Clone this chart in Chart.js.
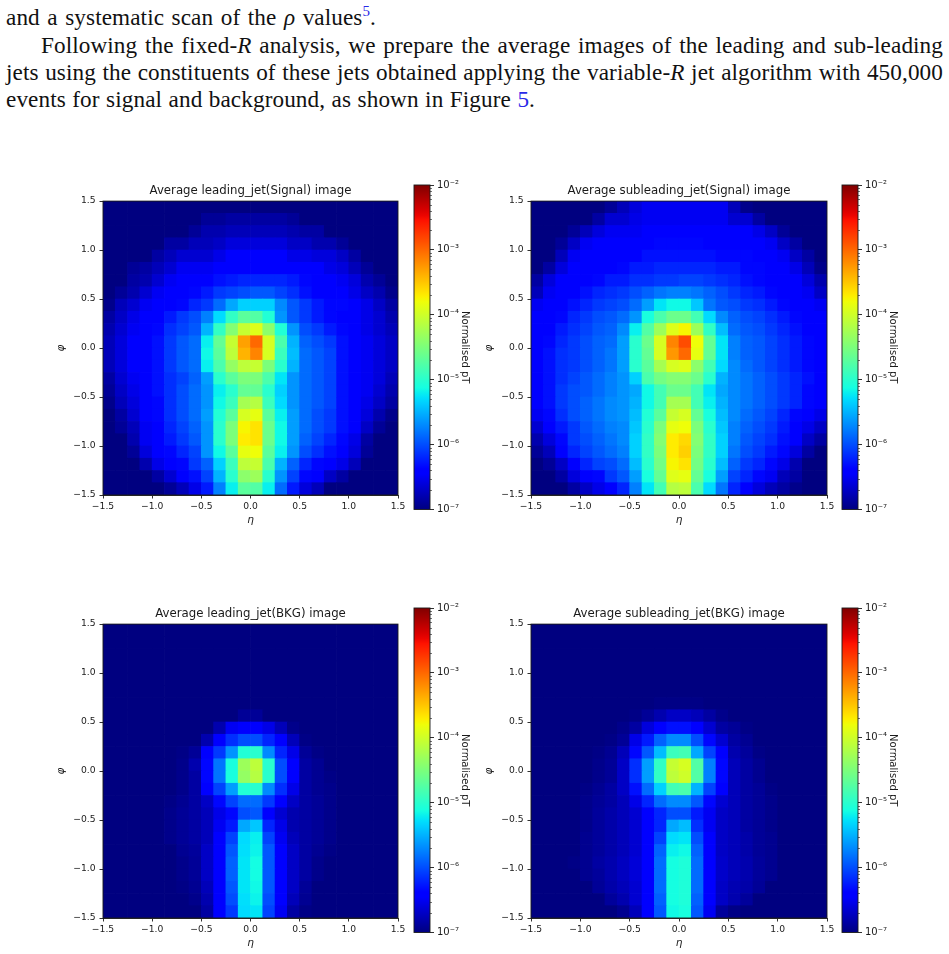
<!DOCTYPE html>
<html>
<head>
<meta charset="utf-8">
<title>Average jet images</title>
<script src="https://cdn.jsdelivr.net/npm/chart.js@4"></script>
<style>
  html, body { margin: 0; padding: 0; background: #fff; }
  body { position: relative; width: 949px; height: 954px; overflow: hidden; }
  canvas { position: absolute; }
  .line {
    position: absolute; white-space: nowrap; color: #111;
    font-family: "Liberation Serif", serif; font-size: 23.2px; letter-spacing: 0.1px; line-height: 26px;
    text-align: justify; text-align-last: justify;
  }
  .line i { font-style: italic; }
  .ref { color: #2a2ae8; }
  sup { font-size: 15px; line-height: 0; color: #2a2ae8; }
</style>
</head>
<body>
<div class="line" style="left:6px;top:4px;width:370px">and a systematic scan of the <i>ρ</i> values<sup>5</sup>.</div>
<div class="line" style="left:41px;top:32px;width:902px">Following the fixed-<i>R</i> analysis, we prepare the average images of the leading and sub-leading</div>
<div class="line" style="left:6px;top:59px;width:937px">jets using the constituents of these jets obtained applying the variable-<i>R</i> jet algorithm with 450,000</div>
<div class="line" style="left:6px;top:86px;width:529px">events for signal and background, as shown in Figure <span class="ref">5</span>.</div>

<canvas id="heat-0" width="358" height="355" style="left:50px;top:176px"></canvas>
<canvas id="heat-1" width="359" height="355" style="left:478px;top:176px"></canvas>
<canvas id="heat-2" width="358" height="355" style="left:50px;top:599px"></canvas>
<canvas id="heat-3" width="359" height="355" style="left:478px;top:599px"></canvas>
<canvas id="bar-0" width="71" height="345" style="left:400px;top:176px"></canvas>
<canvas id="bar-1" width="71" height="345" style="left:828px;top:176px"></canvas>
<canvas id="bar-2" width="71" height="345" style="left:400px;top:599px"></canvas>
<canvas id="bar-3" width="71" height="345" style="left:828px;top:599px"></canvas>

<script>
// bin centres of the 24 x 24 images
const etaBins = [-1.4375, -1.3125, -1.1875, -1.0625, -0.9375, -0.8125, -0.6875, -0.5625, -0.4375, -0.3125, -0.1875, -0.0625,
  0.0625, 0.1875, 0.3125, 0.4375, 0.5625, 0.6875, 0.8125, 0.9375, 1.0625, 1.1875, 1.3125, 1.4375];
const phiBins = [1.4375, 1.3125, 1.1875, 1.0625, 0.9375, 0.8125, 0.6875, 0.5625, 0.4375, 0.3125, 0.1875, 0.0625,
  -0.0625, -0.1875, -0.3125, -0.4375, -0.5625, -0.6875, -0.8125, -0.9375, -1.0625, -1.1875, -1.3125, -1.4375];
const axisTicks = [-1.5, -1.0, -0.5, 0, 0.5, 1.0, 1.5];
const colorTicks = [1e-7, 1e-6, 1e-5, 1e-4, 1e-3, 1e-2];
const colorTickLabels = ['10⁻⁷', '10⁻⁶', '10⁻⁵', '10⁻⁴', '10⁻³', '10⁻²'];
const titles = ['Average leading_jet(Signal) image', 'Average subleading_jet(Signal) image',
  'Average leading_jet(BKG) image', 'Average subleading_jet(BKG) image'];

// log10(normalised pT), one row per phi bin from the top of the image
const leadingSignal = [
  [-7,-7,-7,-7,-7,-7,-7,-7,-7,-7,-7,-7,-7,-7,-7,-7,-7,-7,-7,-7,-7,-7,-7,-7],
  [-7,-7,-7,-7,-7,-7,-7,-7,-6.9,-6.9,-6.85,-6.85,-6.85,-6.85,-6.85,-6.9,-7,-7,-7,-7,-7,-7,-7,-7],
  [-7,-7,-7,-7,-7,-7,-7,-6.9,-6.8,-6.8,-6.75,-6.75,-6.75,-6.75,-6.75,-6.8,-6.85,-6.85,-7,-7,-7,-7,-7,-7],
  [-7,-7,-7,-7,-7,-6.85,-6.85,-6.75,-6.75,-6.7,-6.6,-6.6,-6.6,-6.6,-6.6,-6.7,-6.7,-6.8,-6.8,-6.9,-7,-7,-7,-7],
  [-7,-7,-7,-7,-6.85,-6.75,-6.65,-6.65,-6.65,-6.55,-6.45,-6.45,-6.45,-6.45,-6.45,-6.55,-6.55,-6.6,-6.6,-6.7,-6.85,-7,-7,-7],
  [-7,-7,-6.9,-6.85,-6.75,-6.65,-6.5,-6.5,-6.5,-6.45,-6.4,-6.4,-6.4,-6.4,-6.4,-6.45,-6.45,-6.45,-6.55,-6.6,-6.75,-6.9,-7,-7],
  [-7,-7,-6.85,-6.8,-6.65,-6.5,-6.45,-6.4,-6.4,-6.3,-6.25,-6.2,-6.2,-6.2,-6.2,-6.25,-6.35,-6.4,-6.4,-6.5,-6.6,-6.8,-6.9,-7],
  [-7,-6.9,-6.8,-6.65,-6.5,-6.42,-6.4,-6.35,-6.25,-6.1,-6.05,-6,-5.95,-5.95,-6.05,-6.15,-6.3,-6.4,-6.4,-6.45,-6.55,-6.7,-6.8,-6.95],
  [-6.95,-6.75,-6.65,-6.5,-6.4,-6.4,-6.35,-6.2,-6.1,-5.85,-5.55,-5.35,-5.35,-5.35,-5.7,-5.95,-6.1,-6.25,-6.35,-6.35,-6.45,-6.55,-6.7,-6.85],
  [-6.85,-6.7,-6.55,-6.42,-6.38,-6.25,-6.1,-6,-5.75,-5.3,-4.95,-4.7,-4.75,-5.05,-5.65,-5.95,-6.1,-6.25,-6.35,-6.4,-6.45,-6.55,-6.65,-6.8],
  [-6.8,-6.65,-6.5,-6.4,-6.35,-6.15,-6.05,-5.95,-5.5,-4.95,-4.45,-4.05,-3.9,-4.4,-5.05,-5.65,-6,-6.1,-6.25,-6.35,-6.42,-6.55,-6.65,-6.75],
  [-6.75,-6.6,-6.45,-6.38,-6.3,-6.1,-5.95,-5.85,-5.2,-4.65,-4.05,-3.3,-3,-3.95,-4.8,-5.5,-5.9,-6,-6.1,-6.3,-6.42,-6.5,-6.6,-6.7],
  [-6.75,-6.6,-6.45,-6.38,-6.3,-6.1,-5.95,-5.85,-5.15,-4.7,-4.1,-3.4,-3.15,-3.95,-4.9,-5.45,-5.85,-5.95,-6.05,-6.3,-6.4,-6.5,-6.6,-6.7],
  [-6.75,-6.6,-6.45,-6.38,-6.3,-6.1,-5.95,-5.85,-5.2,-4.8,-4.35,-4.1,-4.05,-4.5,-5,-5.5,-5.85,-5.95,-6.05,-6.3,-6.4,-6.5,-6.6,-6.7],
  [-6.85,-6.65,-6.5,-6.4,-6.3,-6.15,-6.05,-5.9,-5.6,-5,-4.7,-4.5,-4.5,-4.8,-5.25,-5.65,-5.85,-5.95,-6.05,-6.3,-6.4,-6.5,-6.6,-6.75],
  [-6.9,-6.7,-6.55,-6.4,-6.3,-6.15,-6,-5.85,-5.65,-5.2,-5,-4.65,-4.65,-5,-5.35,-5.65,-5.85,-5.95,-6.05,-6.3,-6.4,-6.5,-6.65,-6.8],
  [-6.95,-6.75,-6.6,-6.45,-6.35,-6.15,-6,-5.85,-5.65,-5.15,-4.9,-4.25,-4.15,-4.9,-5.3,-5.65,-5.85,-5.95,-6.05,-6.3,-6.4,-6.55,-6.7,-6.85],
  [-7,-6.85,-6.65,-6.45,-6.35,-6.15,-6,-5.85,-5.6,-5.05,-4.7,-3.95,-3.85,-4.7,-5.2,-5.6,-5.85,-6,-6.1,-6.3,-6.42,-6.6,-6.8,-6.95],
  [-7,-6.9,-6.75,-6.5,-6.38,-6.2,-6.05,-5.9,-5.65,-5,-4.5,-3.75,-3.65,-4.6,-5.15,-5.6,-5.85,-6,-6.1,-6.3,-6.45,-6.7,-6.9,-7],
  [-7,-7,-6.8,-6.5,-6.4,-6.25,-6.1,-5.95,-5.65,-5,-4.5,-3.7,-3.65,-4.6,-5.15,-5.6,-5.9,-6.05,-6.2,-6.35,-6.55,-6.85,-7,-7],
  [-7,-7,-6.9,-6.6,-6.42,-6.35,-6.2,-6.05,-5.65,-5.15,-4.7,-3.85,-3.8,-4.7,-5.2,-5.65,-6,-6.15,-6.3,-6.4,-6.6,-6.9,-7,-7],
  [-7,-7,-7,-6.8,-6.55,-6.42,-6.35,-6.1,-5.9,-5.35,-4.9,-4.1,-4.05,-4.8,-5.5,-5.9,-6.2,-6.35,-6.4,-6.55,-6.75,-7,-7,-7],
  [-7,-7,-7,-7,-6.85,-6.65,-6.42,-6.3,-6.05,-5.5,-5,-4.4,-4.3,-5,-5.65,-6.05,-6.35,-6.45,-6.7,-6.85,-7,-7,-7,-7],
  [-7,-7,-7,-7,-7,-6.9,-6.75,-6.55,-6.25,-5.75,-5.2,-4.7,-4.75,-5.2,-5.85,-6.25,-6.6,-6.75,-7,-7,-7,-7,-7,-7]
];
const subleadingSignal = [
  [-7,-7,-7,-7,-7,-7,-6.9,-6.75,-6.6,-6.5,-6.5,-6.5,-6.5,-6.5,-6.5,-6.5,-6.75,-6.95,-7,-7,-7,-7,-7,-7],
  [-7,-7,-7,-7,-7,-6.85,-6.65,-6.65,-6.55,-6.5,-6.5,-6.5,-6.5,-6.5,-6.5,-6.5,-6.65,-6.65,-6.85,-7,-7,-7,-7,-7],
  [-7,-7,-7,-6.9,-6.75,-6.6,-6.5,-6.5,-6.5,-6.45,-6.4,-6.4,-6.4,-6.4,-6.4,-6.45,-6.45,-6.45,-6.55,-6.7,-6.9,-7,-7,-7],
  [-7,-7,-6.9,-6.7,-6.5,-6.45,-6.45,-6.45,-6.4,-6.4,-6.35,-6.35,-6.35,-6.35,-6.4,-6.4,-6.4,-6.4,-6.45,-6.5,-6.7,-6.85,-7,-7],
  [-7,-7,-6.75,-6.5,-6.42,-6.42,-6.42,-6.38,-6.38,-6.3,-6.3,-6.3,-6.3,-6.3,-6.3,-6.35,-6.35,-6.35,-6.42,-6.42,-6.5,-6.7,-6.85,-7],
  [-7,-6.85,-6.6,-6.45,-6.42,-6.4,-6.4,-6.35,-6.25,-6.25,-6.2,-6.2,-6.2,-6.2,-6.2,-6.25,-6.25,-6.35,-6.35,-6.4,-6.45,-6.55,-6.75,-6.95],
  [-6.85,-6.6,-6.45,-6.4,-6.4,-6.35,-6.25,-6.25,-6.15,-6.15,-6.1,-6.1,-6.05,-6.05,-6.1,-6.15,-6.2,-6.3,-6.35,-6.4,-6.4,-6.45,-6.6,-6.8],
  [-6.75,-6.5,-6.42,-6.4,-6.3,-6.2,-6.15,-6.1,-6,-5.9,-5.8,-5.75,-5.75,-5.8,-5.9,-6,-6.1,-6.2,-6.25,-6.35,-6.4,-6.42,-6.5,-6.7],
  [-6.5,-6.42,-6.4,-6.3,-6.2,-6.1,-6.05,-6,-5.85,-5.6,-5.25,-5.15,-5.15,-5.4,-5.8,-5.95,-6,-6.1,-6.15,-6.25,-6.35,-6.4,-6.42,-6.5],
  [-6.45,-6.4,-6.35,-6.2,-6.1,-6,-5.95,-5.85,-5.65,-5.1,-4.8,-4.6,-4.6,-4.85,-5.3,-5.7,-5.9,-6,-6.05,-6.15,-6.25,-6.35,-6.4,-6.42],
  [-6.4,-6.4,-6.25,-6.15,-6.05,-5.95,-5.9,-5.7,-5.2,-4.75,-4.3,-3.9,-3.75,-4.3,-4.95,-5.45,-5.85,-5.95,-6,-6.1,-6.2,-6.3,-6.38,-6.4],
  [-6.4,-6.35,-6.2,-6.1,-6,-5.9,-5.85,-5.6,-5,-4.6,-3.95,-3.15,-2.85,-3.8,-4.65,-5.25,-5.75,-5.9,-5.95,-6.05,-6.15,-6.25,-6.35,-6.4],
  [-6.4,-6.3,-6.15,-6.1,-6,-5.9,-5.8,-5.6,-5,-4.65,-3.95,-3.25,-3,-3.85,-4.65,-5.25,-5.75,-5.9,-5.95,-6.05,-6.15,-6.25,-6.35,-6.4],
  [-6.4,-6.3,-6.15,-6.1,-6,-5.9,-5.8,-5.6,-5,-4.7,-4.25,-3.95,-3.9,-4.4,-4.85,-5.3,-5.7,-5.85,-5.95,-6.05,-6.15,-6.25,-6.35,-6.4],
  [-6.4,-6.3,-6.15,-6.05,-5.95,-5.85,-5.75,-5.65,-5.35,-4.8,-4.55,-4.45,-4.45,-4.6,-5,-5.5,-5.7,-5.8,-5.9,-6,-6.1,-6.2,-6.3,-6.4],
  [-6.4,-6.3,-6.1,-6,-5.95,-5.85,-5.75,-5.65,-5.55,-5.15,-4.85,-4.6,-4.6,-4.85,-5.25,-5.55,-5.7,-5.8,-5.9,-6,-6.1,-6.2,-6.35,-6.4],
  [-6.4,-6.3,-6.1,-6,-5.9,-5.8,-5.7,-5.65,-5.5,-5.15,-4.85,-4.25,-4.25,-4.85,-5.2,-5.5,-5.7,-5.8,-5.9,-6,-6.1,-6.2,-6.35,-6.4],
  [-6.5,-6.35,-6.15,-6,-5.9,-5.8,-5.7,-5.65,-5.45,-5.05,-4.7,-4.05,-3.95,-4.65,-5.1,-5.45,-5.7,-5.85,-5.95,-6.05,-6.2,-6.35,-6.4,-6.55],
  [-6.65,-6.4,-6.25,-6.1,-5.95,-5.85,-5.75,-5.7,-5.4,-5,-4.5,-3.85,-3.8,-4.5,-5,-5.4,-5.75,-5.9,-6,-6.1,-6.25,-6.4,-6.55,-6.7],
  [-6.8,-6.6,-6.35,-6.1,-6,-5.9,-5.8,-5.7,-5.35,-4.95,-4.45,-3.7,-3.6,-4.45,-4.95,-5.35,-5.75,-5.95,-6.05,-6.15,-6.3,-6.45,-6.7,-6.85],
  [-6.9,-6.75,-6.4,-6.2,-6.05,-5.95,-5.85,-5.75,-5.35,-4.95,-4.5,-3.7,-3.55,-4.5,-4.95,-5.35,-5.8,-6,-6.1,-6.25,-6.35,-6.6,-6.85,-7],
  [-7,-6.9,-6.7,-6.4,-6.2,-6.05,-6,-5.85,-5.45,-5,-4.55,-3.75,-3.65,-4.55,-5,-5.45,-5.9,-6.1,-6.2,-6.35,-6.55,-6.8,-7,-7],
  [-7,-7,-6.85,-6.6,-6.45,-6.35,-6.1,-5.95,-5.6,-5.1,-4.65,-3.9,-3.85,-4.65,-5.1,-5.6,-6.05,-6.2,-6.35,-6.5,-6.75,-6.85,-7,-7],
  [-7,-7,-7,-6.85,-6.7,-6.55,-6.4,-6.2,-5.75,-5.25,-4.85,-4.15,-4.1,-4.8,-5.3,-5.8,-6.2,-6.4,-6.6,-6.75,-6.85,-6.95,-7,-7]
];
const leadingBkg = [
  [-7,-7,-7,-7,-7,-7,-7,-7,-7,-7,-7,-7,-7,-7,-7,-7,-7,-7,-7,-7,-7,-7,-7,-7],
  [-7,-7,-7,-7,-7,-7,-7,-7,-7,-7,-7,-7,-7,-7,-7,-7,-7,-7,-7,-7,-7,-7,-7,-7],
  [-7,-7,-7,-7,-7,-7,-7,-7,-7,-7,-7,-7,-7,-7,-7,-7,-7,-7,-7,-7,-7,-7,-7,-7],
  [-7,-7,-7,-7,-7,-7,-7,-7,-7,-7,-7,-7,-7,-7,-7,-7,-7,-7,-7,-7,-7,-7,-7,-7],
  [-7,-7,-7,-7,-7,-7,-7,-7,-7,-7,-7,-7,-7,-7,-7,-7,-7,-7,-7,-7,-7,-7,-7,-7],
  [-7,-7,-7,-7,-7,-7,-7,-7,-7,-7,-7,-7,-7,-7,-7,-7,-7,-7,-7,-7,-7,-7,-7,-7],
  [-7,-7,-7,-7,-7,-7,-7,-7,-7,-7,-7,-7,-7,-7,-7,-7,-7,-7,-7,-7,-7,-7,-7,-7],
  [-7,-7,-7,-7,-7,-7,-7,-7,-7,-7,-7,-6.9,-6.9,-7,-7,-7,-7,-7,-7,-7,-7,-7,-7,-7],
  [-7,-7,-7,-7,-7,-7,-7,-7,-7,-6.8,-6.5,-6.4,-6.4,-6.55,-6.75,-6.95,-7,-7,-7,-7,-7,-7,-7,-7],
  [-7,-7,-7,-7,-7,-7,-7,-7,-6.8,-6.4,-6.15,-6,-6,-6.2,-6.45,-6.75,-6.97,-7,-7,-7,-7,-7,-7,-7],
  [-7,-7,-7,-7,-7,-7,-6.97,-6.9,-6.4,-6.1,-5.65,-5.05,-5,-5.7,-6.2,-6.55,-6.9,-6.97,-7,-7,-7,-7,-7,-7],
  [-7,-7,-7,-7,-7,-7,-6.95,-6.8,-6.35,-5.8,-5.1,-4.3,-4.1,-5,-6,-6.4,-6.85,-6.92,-7,-7,-7,-7,-7,-7],
  [-7,-7,-7,-7,-7,-7,-6.95,-6.85,-6.35,-5.8,-5.1,-4.35,-4.15,-5,-6,-6.4,-6.85,-6.92,-6.97,-7,-7,-7,-7,-7],
  [-7,-7,-7,-7,-7,-7,-6.95,-6.85,-6.4,-6.05,-5.6,-5.05,-5,-5.7,-6.15,-6.55,-6.85,-6.92,-6.95,-7,-7,-7,-7,-7],
  [-7,-7,-7,-7,-7,-6.97,-6.92,-6.85,-6.7,-6.35,-6.05,-5.85,-5.85,-6.1,-6.4,-6.7,-6.85,-6.9,-6.95,-7,-7,-7,-7,-7],
  [-7,-7,-7,-7,-7,-6.95,-6.9,-6.85,-6.75,-6.55,-6.35,-6,-5.95,-6.4,-6.65,-6.8,-6.85,-6.9,-6.95,-7,-7,-7,-7,-7],
  [-7,-7,-7,-7,-7,-6.95,-6.9,-6.85,-6.75,-6.5,-6.25,-5.55,-5.4,-6.2,-6.55,-6.8,-6.85,-6.9,-6.95,-7,-7,-7,-7,-7],
  [-7,-7,-7,-7,-7,-6.95,-6.9,-6.85,-6.75,-6.45,-6.05,-5.3,-5.2,-6.05,-6.5,-6.75,-6.85,-6.9,-6.95,-7,-7,-7,-7,-7],
  [-7,-7,-7,-7,-7,-7,-6.92,-6.88,-6.7,-6.4,-5.95,-5.28,-5.18,-5.95,-6.45,-6.7,-6.85,-6.92,-6.97,-7,-7,-7,-7,-7],
  [-7,-7,-7,-7,-7,-7,-6.95,-6.9,-6.7,-6.4,-5.9,-5.25,-5.13,-5.95,-6.45,-6.7,-6.85,-6.95,-7,-7,-7,-7,-7,-7],
  [-7,-7,-7,-7,-7,-7,-6.95,-6.9,-6.7,-6.4,-5.9,-5.25,-5.13,-5.95,-6.4,-6.7,-6.85,-6.95,-7,-7,-7,-7,-7,-7],
  [-7,-7,-7,-7,-7,-7,-6.97,-6.92,-6.75,-6.4,-5.95,-5.25,-5.15,-5.95,-6.45,-6.7,-6.9,-7,-7,-7,-7,-7,-7,-7],
  [-7,-7,-7,-7,-7,-7,-7,-6.95,-6.8,-6.42,-6,-5.28,-5.18,-6,-6.45,-6.75,-6.92,-7,-7,-7,-7,-7,-7,-7],
  [-7,-7,-7,-7,-7,-7,-7,-7,-6.85,-6.45,-6.1,-5.3,-5.25,-6.05,-6.5,-6.85,-6.97,-7,-7,-7,-7,-7,-7,-7]
];
const subleadingBkg = [
  [-7,-7,-7,-7,-7,-7,-7,-7,-7,-7,-7,-7,-7,-7,-7,-7,-7,-7,-7,-7,-7,-7,-7,-7],
  [-7,-7,-7,-7,-7,-7,-7,-7,-7,-7,-7,-7,-7,-7,-7,-7,-7,-7,-7,-7,-7,-7,-7,-7],
  [-7,-7,-7,-7,-7,-7,-7,-7,-7,-7,-7,-7,-7,-7,-7,-7,-7,-7,-7,-7,-7,-7,-7,-7],
  [-7,-7,-7,-7,-7,-7,-7,-7,-7,-7,-7,-7,-7,-7,-7,-7,-7,-7,-7,-7,-7,-7,-7,-7],
  [-7,-7,-7,-7,-7,-7,-7,-7,-7,-7,-7,-7,-7,-7,-7,-7,-7,-7,-7,-7,-7,-7,-7,-7],
  [-7,-7,-7,-7,-7,-7,-7,-7,-7,-7,-7,-7,-7,-7,-7,-7,-7,-7,-7,-7,-7,-7,-7,-7],
  [-7,-7,-7,-7,-7,-7,-7,-7,-7,-7,-6.97,-6.97,-6.97,-6.97,-7,-7,-7,-7,-7,-7,-7,-7,-7,-7],
  [-7,-7,-7,-7,-7,-7,-7,-7,-6.97,-6.9,-6.8,-6.7,-6.7,-6.75,-6.85,-6.95,-7,-7,-7,-7,-7,-7,-7,-7],
  [-7,-7,-7,-7,-7,-7,-7,-6.95,-6.85,-6.6,-6.4,-6.3,-6.3,-6.4,-6.65,-6.85,-6.9,-6.97,-7,-7,-7,-7,-7,-7],
  [-7,-7,-7,-7,-7,-7,-6.97,-6.9,-6.55,-6.25,-5.9,-5.7,-5.7,-6,-6.35,-6.65,-6.85,-6.92,-7,-7,-7,-7,-7,-7],
  [-7,-7,-7,-7,-7,-6.97,-6.92,-6.75,-6.35,-5.95,-5.45,-4.9,-4.85,-5.55,-6.05,-6.42,-6.8,-6.88,-6.97,-7,-7,-7,-7,-7],
  [-7,-7,-7,-7,-7,-6.95,-6.9,-6.7,-6.15,-5.6,-4.95,-4.05,-3.95,-4.75,-5.75,-6.35,-6.75,-6.85,-6.93,-7,-7,-7,-7,-7],
  [-7,-7,-7,-7,-7,-6.95,-6.9,-6.7,-6.15,-5.6,-4.95,-4.1,-4,-4.75,-5.75,-6.35,-6.75,-6.85,-6.93,-7,-7,-7,-7,-7],
  [-7,-7,-7,-7,-6.97,-6.92,-6.85,-6.7,-6.3,-5.85,-5.35,-4.85,-4.8,-5.5,-6.05,-6.42,-6.75,-6.85,-6.9,-6.97,-7,-7,-7,-7],
  [-7,-7,-7,-7,-6.95,-6.9,-6.85,-6.75,-6.55,-6.2,-5.85,-5.7,-5.7,-5.95,-6.35,-6.65,-6.75,-6.85,-6.9,-6.95,-7,-7,-7,-7],
  [-7,-7,-7,-7,-6.95,-6.88,-6.82,-6.75,-6.65,-6.42,-6.2,-6,-6,-6.25,-6.5,-6.7,-6.75,-6.85,-6.9,-6.95,-7,-7,-7,-7],
  [-7,-7,-7,-7,-6.95,-6.88,-6.82,-6.75,-6.65,-6.42,-6.2,-5.55,-5.45,-6.15,-6.5,-6.7,-6.75,-6.85,-6.9,-6.95,-7,-7,-7,-7],
  [-7,-7,-7,-7,-6.93,-6.88,-6.82,-6.75,-6.65,-6.4,-6.05,-5.3,-5.25,-6,-6.45,-6.7,-6.75,-6.82,-6.9,-6.93,-7,-7,-7,-7],
  [-7,-7,-7,-7,-6.93,-6.88,-6.82,-6.75,-6.65,-6.4,-5.9,-5.2,-5.15,-5.9,-6.4,-6.7,-6.75,-6.82,-6.9,-6.93,-7,-7,-7,-7],
  [-7,-7,-7,-6.97,-6.93,-6.85,-6.8,-6.72,-6.62,-6.4,-5.85,-5.12,-5.07,-5.85,-6.4,-6.68,-6.75,-6.8,-6.88,-6.93,-7,-7,-7,-7],
  [-7,-7,-7,-7,-6.93,-6.88,-6.8,-6.72,-6.62,-6.4,-5.85,-5.12,-5.07,-5.85,-6.4,-6.68,-6.75,-6.8,-6.88,-6.93,-7,-7,-7,-7],
  [-7,-7,-7,-7,-7,-6.9,-6.82,-6.75,-6.65,-6.4,-5.85,-5.12,-5.07,-5.85,-6.42,-6.7,-6.78,-6.82,-6.9,-7,-7,-7,-7,-7],
  [-7,-7,-7,-7,-7,-7,-6.88,-6.8,-6.65,-6.4,-5.9,-5.12,-5.07,-5.9,-6.42,-6.7,-6.8,-6.88,-7,-7,-7,-7,-7,-7],
  [-7,-7,-7,-7,-7,-7,-7,-6.93,-6.75,-6.42,-5.95,-5.15,-5.1,-5.95,-6.5,-6.88,-6.97,-7,-7,-7,-7,-7,-7,-7]
];
const grids = [leadingSignal, subleadingSignal, leadingBkg, subleadingBkg];

const LOG_MIN = -7;
const LOG_MAX = -2;
const FONT = '"DejaVu Sans", sans-serif';
const INK = '#1a1a1a';

// matplotlib jet segments
const jetRed = [[0, 0], [0.35, 0], [0.66, 1], [0.89, 1], [1, 0.5]];
const jetGreen = [[0, 0], [0.125, 0], [0.375, 1], [0.64, 1], [0.91, 0], [1, 0]];
const jetBlue = [[0, 0.5], [0.11, 1], [0.34, 1], [0.65, 0], [1, 0]];

function segment(stops, t) {
  for (let i = 1; i < stops.length; i++) {
    if (t <= stops[i][0]) {
      const [x0, y0] = stops[i - 1];
      const [x1, y1] = stops[i];
      return y0 + (y1 - y0) * (t - x0) / (x1 - x0);
    }
  }
  return stops[stops.length - 1][1];
}

function jet(t) {
  const c = Math.min(1, Math.max(0, t));
  const r = Math.round(255 * segment(jetRed, c));
  const g = Math.round(255 * segment(jetGreen, c));
  const b = Math.round(255 * segment(jetBlue, c));
  return `rgb(${r},${g},${b})`;
}

// box around the plot area, the axes only draw two of its sides
const framePlugin = {
  id: 'frame',
  afterDraw(chart) {
    const { ctx, chartArea: a } = chart;
    ctx.save();
    ctx.strokeStyle = INK;
    ctx.lineWidth = 0.9;
    ctx.strokeRect(a.left, a.top, a.right - a.left, a.bottom - a.top);
    ctx.restore();
  },
};

const minorTicksPlugin = {
  id: 'minorTicks',
  afterDraw(chart) {
    const { ctx, chartArea: a, scales } = chart;
    ctx.save();
    ctx.strokeStyle = INK;
    ctx.lineWidth = 0.6;
    for (const decade of colorTicks.slice(0, -1)) {
      for (let m = 2; m <= 9; m++) {
        const y = Math.round(scales.y.getPixelForValue(decade * m)) + 0.5;
        ctx.beginPath();
        ctx.moveTo(a.right, y);
        ctx.lineTo(a.right + 2, y);
        ctx.stroke();
      }
    }
    ctx.restore();
  },
};

function formatTick(v) {
  return v.toFixed(1).replace('-', '−');
}

// whole pixels, so neighbouring cells overlap without a seam
function cellSide(chart) {
  const x = chart.scales.x;
  return Math.round(Math.abs(x.getPixelForValue(etaBins[1]) - x.getPixelForValue(etaBins[0])) + 0.7);
}

function imageAxis(title, size, tickPadding, titlePadding) {
  return {
    type: 'linear',
    min: axisTicks[0],
    max: axisTicks[axisTicks.length - 1],
    afterBuildTicks: (scale) => { scale.ticks = axisTicks.map((value) => ({ value })); },
    afterFit: (scale) => { scale[size.key] = size.value; },
    grid: { drawOnChartArea: false, drawTicks: true, tickLength: 3.5, color: INK, tickWidth: 0.9 },
    border: { display: true, color: INK, width: 0.9 },
    ticks: {
      autoSkip: false, maxRotation: 0, padding: tickPadding, color: INK,
      font: { family: FONT, size: 9.2 },
      callback: formatTick,
    },
    title: {
      display: true, text: title, color: INK, padding: titlePadding,
      font: { family: FONT, size: 10.5, style: 'italic' },
    },
  };
}

function drawImage(index) {
  const points = [];
  grids[index].forEach((row, j) => {
    row.forEach((v, i) => points.push({ x: etaBins[i], y: phiBins[j], v }));
  });

  new Chart(document.getElementById(`heat-${index}`), {
    type: 'scatter',
    data: {
      datasets: [{
        data: points,
        pointStyle: 'rect',
        pointBorderWidth: 0,
        pointRadius: (ctx) => cellSide(ctx.chart) * Math.SQRT1_2,
        pointBackgroundColor: (ctx) => jet((ctx.raw.v - LOG_MIN) / (LOG_MAX - LOG_MIN)),
      }],
    },
    options: {
      responsive: false,
      animation: false,
      events: [],
      layout: { padding: { left: 0, right: 10, top: 0, bottom: 0 } },
      plugins: {
        legend: { display: false },
        tooltip: { enabled: false },
        title: {
          display: true, text: titles[index], color: INK, fullSize: false,
          padding: { top: 8, bottom: 3 },
          font: { family: FONT, size: 11.75, weight: 'normal', lineHeight: 1.2 },
        },
      },
      scales: {
        x: imageAxis('η', { key: 'height', value: 36 }, 2.5, { top: 0, bottom: 4.5 }),
        y: imageAxis('φ', { key: 'width', value: 53 }, 4, { top: 5, bottom: 0 }),
      },
    },
    plugins: [framePlugin],
  });
}

function drawColorbar(index) {
  new Chart(document.getElementById(`bar-${index}`), {
    type: 'bar',
    data: {
      labels: ['pT'],
      datasets: [{
        data: [[colorTicks[0], colorTicks[colorTicks.length - 1]]],
        categoryPercentage: 1,
        barPercentage: 1,
        backgroundColor: (ctx) => {
          const a = ctx.chart.chartArea;
          if (!a) return jet(0);
          const gradient = ctx.chart.ctx.createLinearGradient(0, a.bottom, 0, a.top);
          for (let k = 0; k <= 64; k++) gradient.addColorStop(k / 64, jet(k / 64));
          return gradient;
        },
      }],
    },
    options: {
      responsive: false,
      animation: false,
      events: [],
      layout: { padding: { left: 14, right: 0, top: 9, bottom: 11.5 } },
      plugins: { legend: { display: false }, tooltip: { enabled: false } },
      scales: {
        x: { display: false },
        y: {
          type: 'logarithmic',
          position: 'right',
          min: colorTicks[0],
          max: colorTicks[colorTicks.length - 1],
          afterBuildTicks: (scale) => { scale.ticks = colorTicks.map((value) => ({ value, major: true })); },
          afterFit: (scale) => { scale.width = 41; },
          grid: { drawOnChartArea: false, drawTicks: true, tickLength: 4, color: INK, tickWidth: 0.9 },
          border: { display: false },
          ticks: {
            autoSkip: false, padding: 3, color: INK,
            font: { family: FONT, size: 10 },
            callback: (v) => colorTickLabels[colorTicks.indexOf(v)],
          },
          title: {
            display: true, text: 'Normalised pT', color: INK, padding: 0,
            font: { family: FONT, size: 10 },
          },
        },
      },
    },
    plugins: [framePlugin, minorTicksPlugin],
  });
}

for (let i = 0; i < grids.length; i++) {
  drawImage(i);
  drawColorbar(i);
}
</script>
</body>
</html>
